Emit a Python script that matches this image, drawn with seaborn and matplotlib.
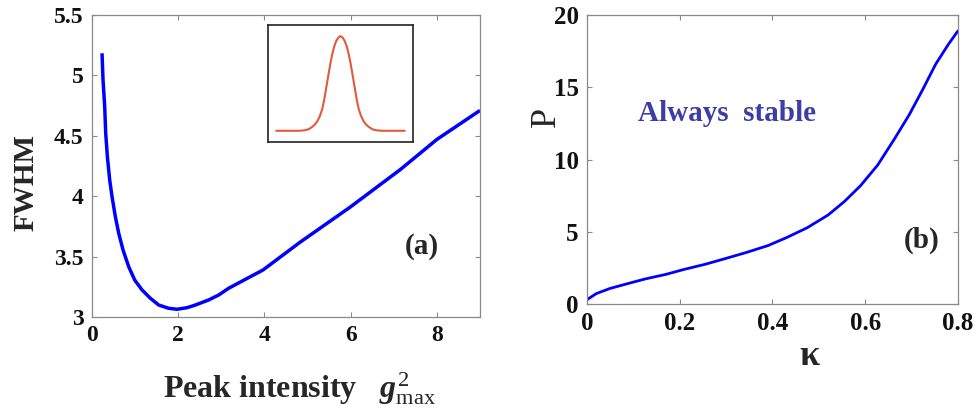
import numpy as np
import pandas as pd
import matplotlib
matplotlib.use("Agg")
import matplotlib.pyplot as plt
import seaborn as sns

# ---- data ----
peak_intensity = [0.232, 0.255, 0.294, 0.317, 0.356, 0.410, 0.464, 0.541, 0.619,
                  0.719, 0.851, 0.990, 1.160, 1.353, 1.547, 1.778, 1.972, 2.204,
                  2.397, 2.706, 2.938, 3.170, 3.97, 4.83, 5.99, 7.15, 8.0, 9.0]
fwhm = [5.183, 4.962, 4.741, 4.521, 4.327, 4.134, 3.996, 3.830, 3.693,
        3.555, 3.416, 3.306, 3.224, 3.155, 3.099, 3.072, 3.064, 3.077,
        3.099, 3.141, 3.182, 3.238, 3.39, 3.62, 3.91, 4.22, 4.47, 4.71]

kappa = [0.0, 0.02, 0.05, 0.09, 0.125, 0.17, 0.21, 0.255, 0.30, 0.345, 0.39,
         0.43, 0.475, 0.52, 0.555, 0.59, 0.627, 0.663, 0.695, 0.725, 0.752,
         0.78, 0.8]
power = [0.3, 0.72, 1.08, 1.43, 1.73, 2.05, 2.40, 2.75, 3.16, 3.58, 4.04,
         4.59, 5.28, 6.16, 7.09, 8.19, 9.62, 11.42, 13.1, 14.9, 16.6,
         18.0, 18.9]

pulse_t = [-4.3, -2.8, -2.45, -2.15, -1.9, -1.72, -1.55, -1.38, -1.22, -1.11,
           -1.0, -0.89, -0.775, -0.665, -0.55, -0.42, -0.28, -0.14, 0.0,
           0.14, 0.28, 0.42, 0.55, 0.665, 0.775, 0.89, 1.0, 1.11, 1.22,
           1.38, 1.55, 1.72, 1.9, 2.15, 2.45, 2.8, 4.3]
pulse_amp = [0.0, 0.0, 0.004, 0.015, 0.04, 0.065, 0.10, 0.155, 0.23, 0.31,
             0.41, 0.515, 0.62, 0.72, 0.81, 0.89, 0.95, 0.985, 1.0,
             0.985, 0.95, 0.89, 0.81, 0.72, 0.62, 0.515, 0.41, 0.31, 0.23,
             0.155, 0.10, 0.065, 0.04, 0.015, 0.004, 0.0, 0.0]

xticks_a = [0, 2, 4, 6, 8]
yticks_a = [3, 3.5, 4, 4.5, 5, 5.5]
yticklabels_a = ["3", "3.5", "4", "4.5", "5", "5.5"]
xticks_b = [0, 0.2, 0.4, 0.6, 0.8]
xticklabels_b = ["0", "0.2", "0.4", "0.6", "0.8"]
yticks_b = [0, 5, 10, 15, 20]

sns.set_theme(style="white")
plt.rcParams["font.family"] = ["Liberation Serif", "DejaVu Serif"]
plt.rcParams["mathtext.fontset"] = "custom"
plt.rcParams["mathtext.rm"] = "Liberation Serif"
plt.rcParams["mathtext.it"] = "Liberation Serif:italic:bold"
plt.rcParams["mathtext.bf"] = "Liberation Serif:bold"

fig = plt.figure(figsize=(9.77, 4.12), dpi=100)
ax1 = fig.add_axes([0.0942, 0.2306, 0.3971, 0.733])
ax2 = fig.add_axes([0.6008, 0.2621, 0.3797, 0.7015])

spine_col = "#8a8a8a"

def style(ax, fs):
    for s in ax.spines.values():
        s.set_color(spine_col)
        s.set_linewidth(0.9)
        s.set_visible(True)
    ax.tick_params(direction="in", length=3.5, width=0.8, color=spine_col,
                   top=True, right=True, bottom=True, left=True,
                   labelsize=fs, pad=6)
    for lab in ax.get_xticklabels() + ax.get_yticklabels():
        lab.set_fontweight("bold")
        lab.set_color("#111111")

# ---- panel (a) ----
df_a = pd.DataFrame({"g": peak_intensity, "fwhm": fwhm})
sns.lineplot(data=df_a, x="g", y="fwhm", ax=ax1, color="#0000ff",
             linewidth=2.5, sort=False, estimator=None,
             solid_joinstyle="round", solid_capstyle="butt")
ax1.set_xlim(0, 9)
ax1.set_ylim(3, 5.5)
ax1.set_xticks(xticks_a)
ax1.set_xticklabels([str(v) for v in xticks_a])
ax1.set_yticks(yticks_a)
ax1.set_yticklabels(yticklabels_a)
style(ax1, 17)
ax1.set_ylabel("FWHM", fontsize=21, fontweight="bold")
ax1.yaxis.set_label_coords(-0.134, 0.444)
ax1.set_xlabel(r"Peak intensity   $g^{2}_{\mathrm{max}}$", fontsize=23,
               fontweight="bold")
ax1.xaxis.set_label_coords(0.536, -0.175)
ax1.text(7.66, 3.58, "(a)", fontsize=21, fontweight="bold",
         ha="center", va="center")

# inset
axi = fig.add_axes([0.274, 0.655, 0.149, 0.284])
df_p = pd.DataFrame({"t": pulse_t, "a": pulse_amp})
sns.lineplot(data=df_p, x="t", y="a", ax=axi, color="#e4593c",
             linewidth=1.5, sort=False, estimator=None,
             solid_joinstyle="round")
axi.set_xlim(-4.87, 4.87)
axi.set_ylim(-0.12, 1.116)
axi.set_xticks([])
axi.set_yticks([])
axi.set_xlabel("")
axi.set_ylabel("")
for s in axi.spines.values():
    s.set_color("#222222")
    s.set_linewidth(1.2)
    s.set_visible(True)

# ---- panel (b) ----
df_b = pd.DataFrame({"kappa": kappa, "P": power})
sns.lineplot(data=df_b, x="kappa", y="P", ax=ax2, color="#0000ff",
             linewidth=2.0, sort=False, estimator=None,
             solid_joinstyle="round")
ax2.set_xlim(0, 0.8)
ax2.set_ylim(0, 20)
ax2.set_xticks(xticks_b)
ax2.set_xticklabels(xticklabels_b)
ax2.set_yticks(yticks_b)
ax2.set_yticklabels([str(v) for v in yticks_b])
style(ax2, 18)
ax2.set_xlabel("κ", fontsize=26, fontweight="bold")
ax2.xaxis.set_label_coords(0.60, -0.125)
ax2.set_ylabel("P", fontsize=26)
ax2.yaxis.set_label_coords(-0.065, 0.647)
ax2.text(0.11, 13.2, "Always  stable", fontsize=21, fontweight="bold",
         color="#3d3da8", ha="left", va="center")
ax2.text(0.722, 4.43, "(b)", fontsize=21, fontweight="bold",
         ha="center", va="center")

fig.savefig("out.png", dpi=100)
